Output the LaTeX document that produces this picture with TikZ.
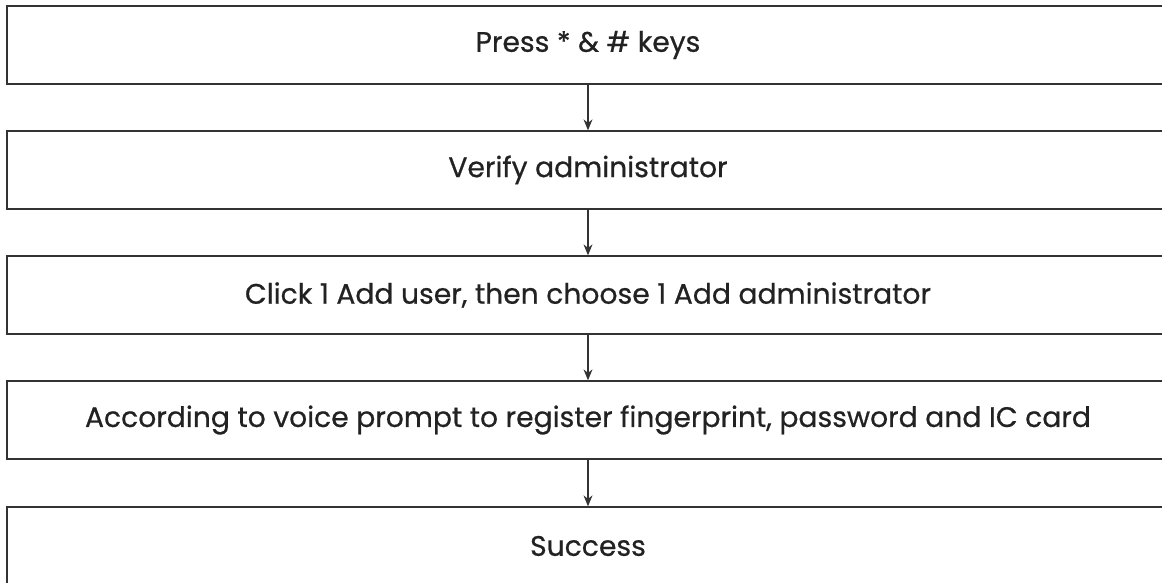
\documentclass[tikz,border=0pt]{standalone}
\usepackage{fontspec}
\setmainfont{Poppins}[FakeBold=0.6]
\usetikzlibrary{arrows.meta}
\definecolor{boxline}{HTML}{333333}
\definecolor{txt}{HTML}{222222}
\tikzset{
  stepbox/.style={draw=boxline, line width=1.3pt, rectangle, minimum width=1162pt, minimum height=78pt, inner sep=0pt, text=txt, font=\fontsize{28.2}{33}\selectfont},
  flow/.style={draw=boxline, line width=1.1pt, -{Stealth[length=11pt,width=9pt]}}
}
\begin{document}
\begin{tikzpicture}[x=1pt,y=1pt]
\useasboundingbox (0,0) rectangle (1162,583);
\clip (0,0) rectangle (1162,583);
\node[stepbox] (s1) at (588,583-45) {Press * \& \# keys};
\node[stepbox] (s2) at (588,583-170) {Verify administrator};
\node[stepbox] (s3) at (588,583-295) {Click 1 Add user, then choose 1 Add administrator};
\node[stepbox] (s4) at (588,583-420) {According to voice prompt to register fingerprint, password and IC card};
\node[stepbox] (s5) at (588,583-546) {Success};
\draw[flow] (s1.south) -- (s2.north);
\draw[flow] (s2.south) -- (s3.north);
\draw[flow] (s3.south) -- (s4.north);
\draw[flow] (s4.south) -- (s5.north);
\end{tikzpicture}
\end{document}
